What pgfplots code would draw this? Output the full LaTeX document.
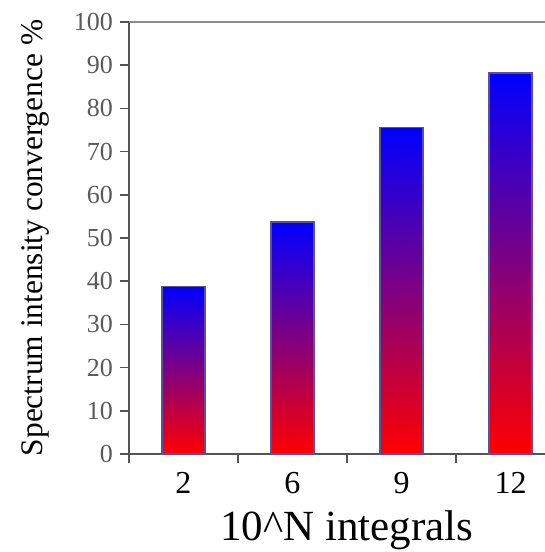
\documentclass[border=0pt]{standalone}
\usepackage{pgfplots}
\pgfplotsset{compat=1.18}
\usepackage{fontspec}
\setmainfont{Liberation Serif}
\definecolor{spine}{RGB}{85,85,85}
\definecolor{topline}{RGB}{140,140,140}
\definecolor{tickgray}{RGB}{90,90,90}
\definecolor{baredge}{RGB}{90,80,160}
\begin{document}
\begin{tikzpicture}
\clip (0,0) rectangle (272.5pt,276pt);
\begin{axis}[
  at={(64.5pt,49pt)}, anchor=south west,
  scale only axis,
  width=218pt, height=216pt,
  xmin=-0.5, xmax=3.5,
  ymin=0, ymax=100,
  axis lines=left,
  axis line style={-, spine, line width=0.8pt},
  ybar, bar width=21.5pt, bar shift=0pt,
  xtick={0,1,2,3},
  xticklabels={2,6,9,12},
  minor xtick={-0.5,0.5,1.5,2.5,3.5},
  x tick style={draw=none},
  minor x tick style={draw=spine, line width=0.8pt},
  minor tick length=4.5pt,
  ytick={0,10,...,100},
  y tick style={spine, line width=0.8pt},
  major tick length=4.5pt,
  tick align=outside,
  /pgf/number format/assume math mode=true,
  yticklabel style={font=\fontsize{13}{13}\selectfont, text=tickgray},
  xticklabel style={font=\fontsize{16}{16}\selectfont, yshift=-1pt},
  xlabel={10\textasciicircum N integrals},
  xlabel style={font=\fontsize{21.5}{21.5}\selectfont, yshift=-1.5pt},
  ylabel={Spectrum intensity convergence \%},
  ylabel style={font=\fontsize{15.7}{15.7}\selectfont, at={(axis description cs:-0.2156,0.5)}, anchor=center, rotate=0},
  clip=false,
  mybar/.style={draw=baredge, line width=0.6pt, top color=blue, bottom color=red},
]
\addplot[mybar] coordinates {(0,38.8)};
\addplot[mybar] coordinates {(1,53.7)};
\addplot[mybar] coordinates {(2,75.5)};
\addplot[mybar] coordinates {(3,88.2)};
\draw[topline, line width=0.8pt] (rel axis cs:0,1) -- (rel axis cs:1,1);
\end{axis}
\end{tikzpicture}
\end{document}
